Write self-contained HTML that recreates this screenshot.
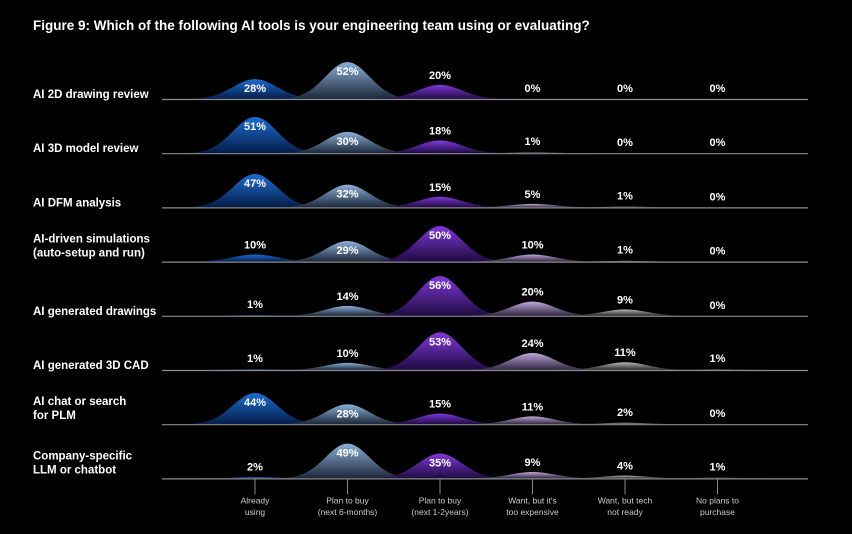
<!DOCTYPE html>
<html><head><meta charset="utf-8"><style>
html,body{margin:0;padding:0;background:#000;}
svg{display:block;font-family:"Liberation Sans",sans-serif;}
</style></head><body>
<svg id="chart" width="852" height="534" viewBox="0 0 852 534">
<defs>
<linearGradient id="g0" x1="0" y1="0" x2="0" y2="1"><stop offset="0" stop-color="#1f78e8"/><stop offset="1" stop-color="#062050"/></linearGradient>
<linearGradient id="g1" x1="0" y1="0" x2="0" y2="1"><stop offset="0" stop-color="#9cc2ee"/><stop offset="1" stop-color="#1e2c40"/></linearGradient>
<linearGradient id="g2" x1="0" y1="0" x2="0" y2="1"><stop offset="0" stop-color="#8d3ff0"/><stop offset="1" stop-color="#220c48"/></linearGradient>
<linearGradient id="g3" x1="0" y1="0" x2="0" y2="1"><stop offset="0" stop-color="#d2b8ee"/><stop offset="1" stop-color="#352a48"/></linearGradient>
<linearGradient id="g4" x1="0" y1="0" x2="0" y2="1"><stop offset="0" stop-color="#c8c8c8"/><stop offset="1" stop-color="#2e2e2e"/></linearGradient>
<linearGradient id="g5" x1="0" y1="0" x2="0" y2="1"><stop offset="0" stop-color="#888"/><stop offset="1" stop-color="#222"/></linearGradient>
</defs>
<text x="33" y="30" fill="#fff" font-size="13.5" font-weight="bold">Figure 9: Which of the following AI tools is your engineering team using or evaluating?</text>
<g id="plot"></g>
</svg>
<script>
const categories = ["Already using","Plan to buy (next 6-months)","Plan to buy (next 1-2years)","Want, but it's too expensive","Want, but tech not ready","No plans to purchase"];
const catLines = [["Already","using"],["Plan to buy","(next 6-months)"],["Plan to buy","(next 1-2years)"],["Want, but it's","too expensive"],["Want, but tech","not ready"],["No plans to","purchase"]];
const rowLabels = [["AI 2D drawing review"],["AI 3D model review"],["AI DFM analysis"],["AI-driven simulations","(auto-setup and run)"],["AI generated drawings"],["AI generated 3D CAD"],["AI chat or search","for PLM"],["Company-specific","LLM or chatbot"]];
const row0 = [28,52,20,0,0,0];
const row1 = [51,30,18,1,0,0];
const row2 = [47,32,15,5,1,0];
const row3 = [10,29,50,10,1,0];
const row4 = [1,14,56,20,9,0];
const row5 = [1,10,53,24,11,1];
const row6 = [44,28,15,11,2,0];
const row7 = [2,49,35,9,4,1];
const rows = [row0,row1,row2,row3,row4,row5,row6,row7];

const NS="http://www.w3.org/2000/svg";
const plot=document.getElementById('plot');
const xCol = i => 255 + i*92.5;
const yBase = r => 99 + r*54.2;
const hScale = v => v*0.71;
function mk(tag,attrs,parent){const e=document.createElementNS(NS,tag);for(const k in attrs)e.setAttribute(k,attrs[k]);(parent||plot).appendChild(e);return e;}

rows.forEach((vals,r)=>{
  const yb=yBase(r);
  const g=mk('g',{});
  
  
  const lab=rowLabels[r];
  lab.forEach((t,li)=>{
    const y = lab.length===1 ? yb-1 : yb-19+li*14;
    const tx=mk('text',{x:33,y:y,fill:'#fff','font-size':11.5,'font-weight':'bold'},g);
    tx.textContent=t;
    
    
  });
  vals.forEach((v,c)=>{
    const cx=xCol(c), h=hScale(v), s=22;
    let d='M'+(cx-80)+','+yb;
    for(let dx=-80;dx<=80;dx+=2){d+=' L'+(cx+dx)+','+(yb-h*Math.exp(-dx*dx/(2*s*s))).toFixed(2);}
    d+=' Z';
    const p=mk('path',{d:d,fill:'url(#g'+c+')','fill-opacity':0.9},g);
    
    
    const ly = v>=25 ? yb-h+13 : (v>0 ? Math.min(yb-h-6, yb-8) : yb-7);
    const t=mk('text',{x:cx,y:ly,fill:'#fff','font-size':11,'font-weight':'bold','text-anchor':'middle'},g);
    t.textContent=v+'%';
    
    
  });
  const ln=mk('line',{x1:162,x2:808,y1:yb+0.5,y2:yb+0.5,stroke:'#8a8a8a','stroke-width':1.2},g);
  
  
});
const yl=yBase(rows.length-1);
categories.forEach((c,i)=>{
  const cx=xCol(i);
  const tk=mk('line',{x1:cx,x2:cx,y1:yl+1,y2:yl+16,stroke:'#888','stroke-width':1});
  
  
  catLines[i].forEach((t,li)=>{
    const tx=mk('text',{x:cx,y:yl+25+li*11.5,fill:'#ccc','font-size':8.5,'text-anchor':'middle'});
    tx.textContent=t;
    
    
  });
});
</script>
</body></html>
